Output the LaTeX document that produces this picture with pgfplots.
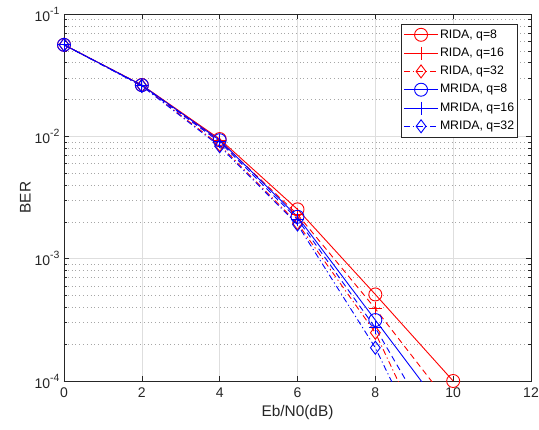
\documentclass[border=0pt]{standalone}
\usepackage{fontspec}
\setmainfont{Liberation Sans}
\usepackage{pgfplots}
\pgfplotsset{compat=1.18}
\definecolor{mred}{rgb}{1,0,0}
\definecolor{mblue}{rgb}{0,0,1}
\definecolor{axc}{rgb}{0.15,0.15,0.15}
\newcommand\tl[1]{10\raisebox{0.5em}{\fontsize{10.5}{10}\selectfont -#1}}
\begin{document}
\begin{tikzpicture}
\useasboundingbox (-64pt,-49pt) rectangle (475pt,381pt);
\begin{axis}[
  at={(0,0)}, anchor=south west,
  scale only axis, width=467pt, height=367pt,
  xmin=0, xmax=12, ymode=log, ymin=1e-4, ymax=1e-1,
  xtick={0,2,4,6,8,10,12}, xticklabels={0,2,4,6,8,10,12},
  ytick={1e-4,1e-3,1e-2,1e-1},
  yticklabels={\tl{4},\tl{3},\tl{2},\tl{1}},
  tick label style={font=\fontsize{14}{16}\selectfont, text=axc},
  xticklabel style={yshift=-3pt},
  yticklabel style={xshift=-1pt},
  label style={font=\fontsize{15.4}{17}\selectfont, text=axc},
  xlabel={Eb/N0(dB)}, ylabel={BER},
  xlabel style={yshift=-1pt},
  ylabel style={yshift=-3pt},
  xmajorgrids, ymajorgrids, yminorgrids,
  major grid style={color=black!13, line width=0.6pt},
  minor grid style={color=black!35, line width=0.6pt, dash pattern=on 0.8pt off 3pt},
  axis line style={color=axc, line width=0.7pt},
  tick style={color=axc, line width=0.6pt},
  major tick length=5pt, minor tick length=3pt,
  tick align=inside,
  legend cell align=left,
  legend style={at={(rel axis cs:0.972,0.973)}, anchor=north east,
    draw=axc, line width=0.5pt, fill=white,
    font=\fontsize{12.3}{14}\selectfont, text=black,
    inner xsep=2pt, inner ysep=1.5pt, row sep=0pt,
    nodes={inner xsep=1.5pt, inner ysep=2.9pt, text height=9.5pt, text depth=3pt}},
  legend image code/.code={\draw[mark=none] (0pt,0pt) -- (34pt,0pt); \draw plot coordinates {(17pt,0pt)};},
  every axis plot/.append style={line width=0.9pt},
  mark size=6.5pt,
]
\addplot[color=mred, mark=o, mark options={solid}] coordinates {
 (0,0.056) (2,0.0263) (4,0.0095) (6,0.00253) (8,0.00051) (10,0.0001)};
\addlegendentry{RIDA, q=8}
\addplot[color=mred, mark=+, mark options={solid}, dash pattern=on 6pt off 4pt, legend image post style={solid}, mark indices={1,2,3,4,5}] coordinates {
 (0,0.056) (2,0.0262) (4,0.0092) (6,0.0023) (8,0.00039) (10,0.000059)};
\addlegendentry{RIDA, q=16}
\addplot[color=mred, mark=diamond, mark options={solid}, dash pattern=on 6pt off 3pt on 1.2pt off 3pt, mark indices={1,2,3,4,5}] coordinates {
 (0,0.056) (2,0.026) (4,0.0085) (6,0.00195) (8,0.000248) (10,0.000011)};
\addlegendentry{RIDA, q=32}
\addplot[color=mblue, mark=o, mark options={solid}, mark indices={1,2,3,4,5}] coordinates {
 (0,0.056) (2,0.0262) (4,0.0093) (6,0.0022) (8,0.000315) (10,0.000045)};
\addlegendentry{MRIDA, q=8}
\addplot[color=mblue, mark=+, mark options={solid}, dash pattern=on 6pt off 4pt, legend image post style={solid}, mark indices={1,2,3,4,5}] coordinates {
 (0,0.056) (2,0.026) (4,0.009) (6,0.0021) (8,0.000272) (10,0.000022)};
\addlegendentry{MRIDA, q=16}
\addplot[color=mblue, mark=diamond, mark options={solid}, dash pattern=on 6pt off 3pt on 1.2pt off 3pt, mark indices={1,2,3,4,5}] coordinates {
 (0,0.056) (2,0.0258) (4,0.0083) (6,0.0019) (8,0.000187) (10,0.000009)};
\addlegendentry{MRIDA, q=32}
\end{axis}
\end{tikzpicture}
\end{document}
